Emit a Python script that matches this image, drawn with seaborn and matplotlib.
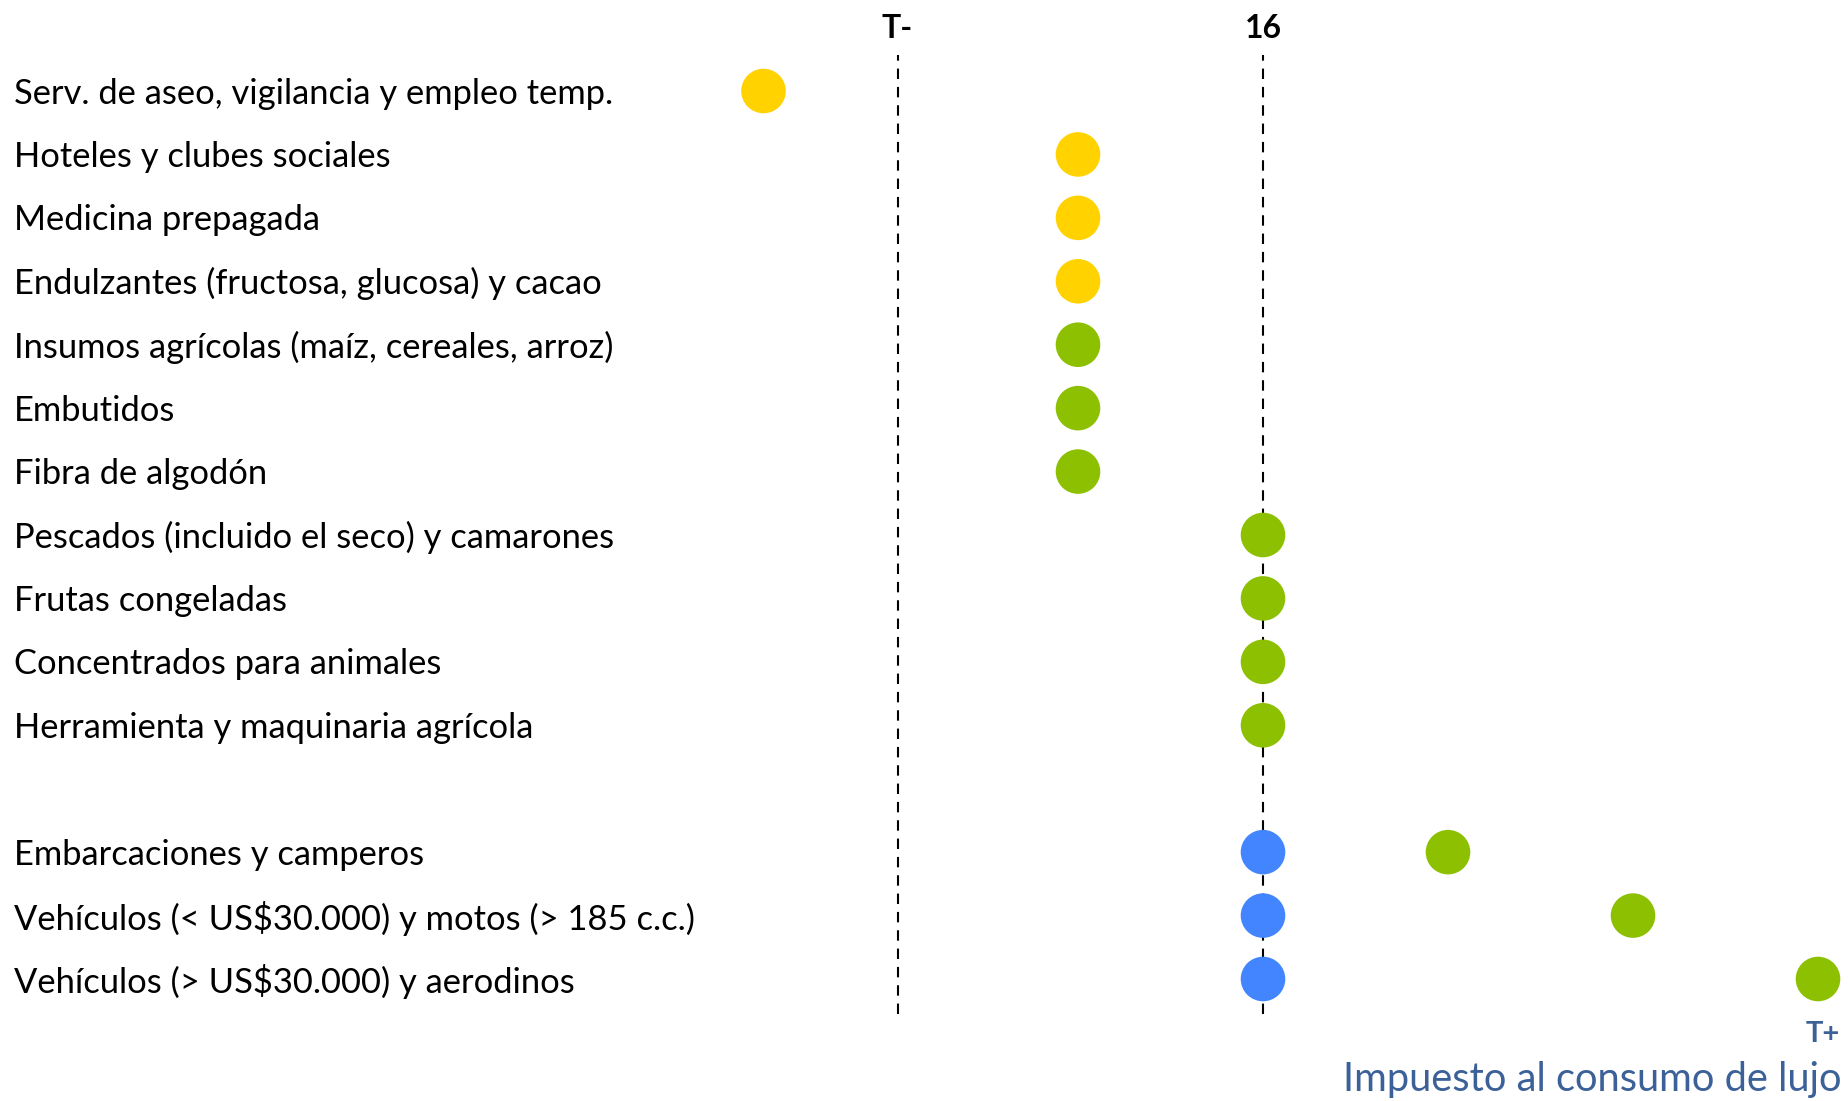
import matplotlib
matplotlib.use("Agg")
import matplotlib.pyplot as plt
import matplotlib.transforms as mtransforms
import seaborn as sns
import pandas as pd

# ---- data ----
categorias = [
    "Serv. de aseo, vigilancia y empleo temp.",
    "Hoteles y clubes sociales",
    "Medicina prepagada",
    "Endulzantes (fructosa, glucosa) y cacao",
    "Insumos agrícolas (maíz, cereales, arroz)",
    "Embutidos",
    "Fibra de algodón",
    "Pescados (incluido el seco) y camarones",
    "Frutas congeladas",
    "Concentrados para animales",
    "Herramienta y maquinaria agrícola",
    "",
    "Embarcaciones y camperos",
    "Vehículos (< US$30.000) y motos (> 185 c.c.)",
    "Vehículos (> US$30.000) y aerodinos",
]

# tarifa (IVA) por categoría (escala relativa, 16 = tarifa general)
tarifa_iva = [5.2, 12, 12, 12, 12, 12, 12, 16, 16, 16, 16, None, 16, 16, 16]
grupo_iva = ["amarillo", "amarillo", "amarillo", "amarillo",
             "verde", "verde", "verde", "verde", "verde", "verde", "verde",
             None, "azul", "azul", "azul"]

# impuesto al consumo de lujo
categorias_lujo = [
    "Embarcaciones y camperos",
    "Vehículos (< US$30.000) y motos (> 185 c.c.)",
    "Vehículos (> US$30.000) y aerodinos",
]
tarifa_lujo = [20, 24, 28]
grupo_lujo = ["verde", "verde", "verde"]

ticks_sup = [8.1, 16]
ticks_sup_labels = ["T-", "16"]

colores = {"amarillo": "#FFD200", "verde": "#8CC000", "azul": "#4285FF"}

# ---- build long table ----
rows = []
for c, v, g in zip(categorias, tarifa_iva, grupo_iva):
    if v is not None:
        rows.append({"cat": c, "fila": categorias.index(c), "tarifa": v, "grupo": g})
for c, v, g in zip(categorias_lujo, tarifa_lujo, grupo_lujo):
    rows.append({"cat": c, "fila": categorias.index(c), "tarifa": v, "grupo": g})
df = pd.DataFrame(rows)

sns.set_theme(style="white")
plt.rcParams["font.family"] = ["Lato", "DejaVu Sans"]

W, H = 1849, 1101
fig = plt.figure(figsize=(W / 100, H / 100), dpi=100)
top_px, bot_px = 55, 1014
ax = fig.add_axes([0, 1 - bot_px / H, 1, (bot_px - top_px) / H])

sns.scatterplot(data=df, x="tarifa", y="fila", hue="grupo", palette=colores,
                s=1030, linewidth=0, legend=False, ax=ax, zorder=3)

# x scale: 16 at pixel 1263, 46.25 px per unit
k = 46.25
ax.set_xlim(16 - 1263 / k, 16 + (W - 1263) / k)
row_px = 63.43
ax.set_ylim(14 + (bot_px - 979) / row_px, -(91 - top_px) / row_px)

for t in ticks_sup:
    ax.axvline(t, color="black", lw=1.5, ls=(0, (5, 3.8)), zorder=1)

ax.xaxis.tick_top()
ax.set_xticks(ticks_sup)
ax.set_xticklabels(ticks_sup_labels, fontsize=23, fontweight="bold", color="black")
ax.tick_params(axis="x", length=0, pad=9)
ax.set_yticks([])
ax.set_xlabel("")
ax.set_ylabel("")
for sp in ax.spines.values():
    sp.set_visible(False)

# category labels
trans = mtransforms.blended_transform_factory(fig.transFigure, ax.transData)
for i, c in enumerate(categorias):
    if c:
        ax.text(14 / W, i + 0.04, c, transform=trans, ha="left", va="center",
                fontsize=24.8, color="black")

# T+ and title
fig.text(1840 / W, 1 - 1034 / H, "T+", ha="right", va="center",
         fontsize=21, fontweight="bold", color="#3B6198")
fig.text(1842 / W, 1 - 1079 / H, "Impuesto al consumo de lujo", ha="right", va="center",
         fontsize=28.7, color="#3B6198")

fig.savefig("out.png", dpi=100)
